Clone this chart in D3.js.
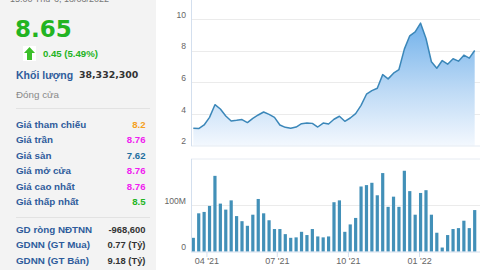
<!DOCTYPE html>
<html><head><meta charset="utf-8">
<script src="https://cdn.jsdelivr.net/npm/d3@7/dist/d3.min.js"></script>
<style>
html,body{margin:0;padding:0;background:#fff;}
svg{display:block;}
</style></head>
<body>
<svg id="c" width="480" height="270"></svg>
<script>
// ---- data ----
const weeks = ["2021-03-15","2021-03-22","2021-03-29","2021-04-05","2021-04-12","2021-04-19","2021-04-26","2021-05-03","2021-05-10","2021-05-17","2021-05-24","2021-05-31","2021-06-07","2021-06-14","2021-06-21","2021-06-28","2021-07-05","2021-07-12","2021-07-19","2021-07-26","2021-08-02","2021-08-09","2021-08-16","2021-08-23","2021-08-30","2021-09-06","2021-09-13","2021-09-20","2021-09-27","2021-10-04","2021-10-11","2021-10-18","2021-10-25","2021-11-01","2021-11-08","2021-11-15","2021-11-22","2021-11-29","2021-12-06","2021-12-13","2021-12-20","2021-12-27","2022-01-03","2022-01-10","2022-01-17","2022-01-24","2022-01-31","2022-02-07","2022-02-14","2022-02-21","2022-02-28","2022-03-07","2022-03-14"];
const prices = [3.10,3.08,3.31,3.79,4.59,4.32,3.88,3.56,3.60,3.65,3.46,3.73,3.94,4.13,3.98,3.79,3.31,3.16,3.10,3.18,3.39,3.43,3.41,3.18,3.43,3.37,3.67,3.86,3.54,3.75,4.03,4.55,5.25,5.48,5.63,6.49,6.22,6.58,6.81,8.10,8.94,9.19,9.74,8.77,7.30,6.89,7.38,7.15,7.49,7.34,7.72,7.53,8.01];
const volumesM = [30,83,86,99,164,104,91,111,77,66,56,80,114,83,68,49,49,38,30,31,43,36,49,33,31,33,107,111,43,59,73,141,144,149,122,170,97,119,97,175,131,80,127,133,80,41,9,36,49,51,67,51,90];
const priceTicks = [2,4,6,8,10];
const volTicks = [0,100];
const timeTicks = ["2021-04-01","2021-07-01","2021-10-01","2022-01-01"];
const infoTop = {price:"8.65", change:"0.45 (5.49%)", volLabel:"Khối lượng", volume:"38,332,300", status:"Đóng cửa", stamp:"15:00 Thứ 6, 18/03/2022"};
const rowLabels = ["Giá tham chiếu","Giá trần","Giá sàn","Giá mở cửa","Giá cao nhất","Giá thấp nhất"];
const rowValues = ["8.2","8.76","7.62","8.76","8.76","8.5"];
const rowColors = ["#f5a01e","#f020f0","#1f6f9f","#f020f0","#f020f0","#22b422"];
const frnLabels = ["GD ròng NĐTNN","GDNN (GT Mua)","GDNN (GT Bán)"];
const frnValues = ["-968,600","0.77 (Tỷ)","9.18 (Tỷ)"];

const svg = d3.select("#c");
const parse = d3.timeParse("%Y-%m-%d");
const dates = weeks.map(parse);

// ---- left panel ----
svg.append("rect").attr("x",0).attr("y",0).attr("width",156).attr("height",270).attr("fill","#f3f3f3");
const lp = svg.append("g").attr("font-family","Arial, 'Liberation Sans', sans-serif");
lp.append("text").attr("x",10).attr("y",1.5).attr("font-size",9).attr("fill","#777").text(infoTop.stamp);
lp.append("text").attr("x",15).attr("y",37).attr("font-family","'DejaVu Sans', Verdana, sans-serif").attr("font-weight","bold").attr("font-size",23).attr("fill","#22b422").text(infoTop.price);
// arrow icon
lp.append("rect").attr("x",23).attr("y",46).attr("width",13).attr("height",15).attr("fill","#fff");
lp.append("path").attr("d","M29.5,47 L35,53 L32,53 L32,60 L27,60 L27,53 L24,53 Z").attr("fill","#3cbf2a");
lp.append("text").attr("x",43).attr("y",57).attr("font-weight","bold").attr("font-size",9.6).attr("fill","#22b422").text(infoTop.change);
lp.append("text").attr("x",16).attr("y",79).attr("font-weight","bold").attr("font-size",10.5).attr("fill","#2f5c9c").text(infoTop.volLabel);
lp.append("text").attr("x",79).attr("y",78).attr("font-family","'DejaVu Sans', Verdana, sans-serif").attr("font-weight","bold").attr("font-size",9.4).attr("fill","#333").text(infoTop.volume);
lp.append("text").attr("x",16).attr("y",98).attr("font-size",9.8).attr("fill","#888").text(infoTop.status);
lp.append("line").attr("x1",16).attr("x2",150).attr("y1",108.5).attr("y2",108.5).attr("stroke","#e2e2e2");
rowLabels.forEach((l,i)=>{
  const y = 127.5 + i*15.5;
  lp.append("text").attr("x",16).attr("y",y).attr("font-weight","bold").attr("font-size",9.8).attr("fill","#2f5c9c").text(l);
  lp.append("text").attr("x",145.5).attr("y",y).attr("text-anchor","end").attr("font-weight","bold").attr("font-size",9.6).attr("fill",rowColors[i]).text(rowValues[i]);
});
lp.append("line").attr("x1",16).attr("x2",150).attr("y1",217.5).attr("y2",217.5).attr("stroke","#e2e2e2");
frnLabels.forEach((l,i)=>{
  const y = 232.5 + i*15.8;
  lp.append("text").attr("x",16).attr("y",y).attr("font-weight","bold").attr("font-size",9.8).attr("fill","#2f5c9c").text(l);
  lp.append("text").attr("x",145.5).attr("y",y).attr("text-anchor","end").attr("font-weight","bold").attr("font-size",9.4).attr("fill","#333").text(frnValues[i]);
});

// ---- scales ----
const x = d3.scaleTime().domain([dates[0], dates[dates.length-1]]).range([193.3, 474.7]);
const yP = d3.scaleLinear().domain([2, 11]).range([145.7, 3.2]);
const yV = d3.scaleLinear().domain([0, 200]).range([251.7, 159.2]);
const axisCol = "#d3dfee", gridCol = "#ebebeb", labCol = "#666";
const left = 191;

// defs gradient
const defs = svg.append("defs");
const grad = defs.append("linearGradient").attr("id","ag").attr("gradientUnits","userSpaceOnUse")
  .attr("x1",0).attr("x2",0).attr("y1",yP(10)).attr("y2",yP(2));
grad.append("stop").attr("offset","0%").attr("stop-color","#6dafea");
grad.append("stop").attr("offset","55%").attr("stop-color","#bcd9f5");
grad.append("stop").attr("offset","100%").attr("stop-color","#f3f8fe");

// price grid
const gP = svg.append("g");
gP.selectAll("line.g").data(priceTicks.filter(d=>d>2)).join("line")
  .attr("x1",left).attr("x2",480).attr("y1",d=>Math.round(yP(d))+0.5).attr("y2",d=>Math.round(yP(d))+0.5)
  .attr("stroke",gridCol);
const area = d3.area().x((d,i)=>x(dates[i])).y0(yP(2)).y1(d=>yP(d));
const line = d3.line().x((d,i)=>x(dates[i])).y(d=>yP(d));
gP.append("path").datum(prices).attr("d",area).attr("fill","url(#ag)");
gP.append("path").datum(prices).attr("d",line).attr("fill","none").attr("stroke","#3b87b9").attr("stroke-width",1.5).attr("stroke-linejoin","round");
gP.append("line").attr("x1",left).attr("x2",480).attr("y1",146).attr("y2",146).attr("stroke","#e4ebf3");
gP.append("line").attr("x1",left+0.5).attr("x2",left+0.5).attr("y1",0).attr("y2",146).attr("stroke",axisCol);
gP.selectAll("text").data(priceTicks).join("text")
  .attr("x",186).attr("y",d=>yP(d)-1.5).attr("text-anchor","end")
  .attr("font-family","Arial, 'Liberation Sans', sans-serif").attr("font-size",8.6).attr("fill",labCol).text(d=>d);

// volume
const gV = svg.append("g");
gV.append("line").attr("x1",left).attr("x2",480).attr("y1",159).attr("y2",159).attr("stroke","#e6ebf2");
gV.append("line").attr("x1",left).attr("x2",480).attr("y1",Math.round(yV(100))+0.5).attr("y2",Math.round(yV(100))+0.5).attr("stroke",gridCol);
gV.selectAll("rect").data(volumesM).join("rect")
  .attr("x",(d,i)=>x(dates[i])-1.6).attr("width",3.2)
  .attr("y",d=>yV(d)).attr("height",d=>yV(0)-yV(d)).attr("fill","#4290b8");
gV.append("line").attr("x1",left+0.5).attr("x2",left+0.5).attr("y1",159).attr("y2",252).attr("stroke",axisCol);
gV.append("line").attr("x1",left).attr("x2",480).attr("y1",252).attr("y2",252).attr("stroke",axisCol);
gV.selectAll("text").data(volTicks).join("text")
  .attr("x",186).attr("y",d=>yV(d)-1.5).attr("text-anchor","end")
  .attr("font-family","Arial, 'Liberation Sans', sans-serif").attr("font-size",8.6).attr("fill",labCol).text(d=>d===0?"0":d+"M");

// x axis
const fmt = d3.timeFormat("%m '%y");
const ax = svg.append("g").attr("transform","translate(0,252)")
  .call(d3.axisBottom(x).tickValues(timeTicks.map(parse)).tickSize(5).tickFormat(fmt));
ax.select(".domain").remove();
ax.selectAll(".tick line").attr("stroke",axisCol);
ax.selectAll(".tick text").attr("font-family","Arial, 'Liberation Sans', sans-serif").attr("font-size",9).attr("fill",labCol).attr("dy","0.3em").attr("y",9);
</script>
</body></html>
